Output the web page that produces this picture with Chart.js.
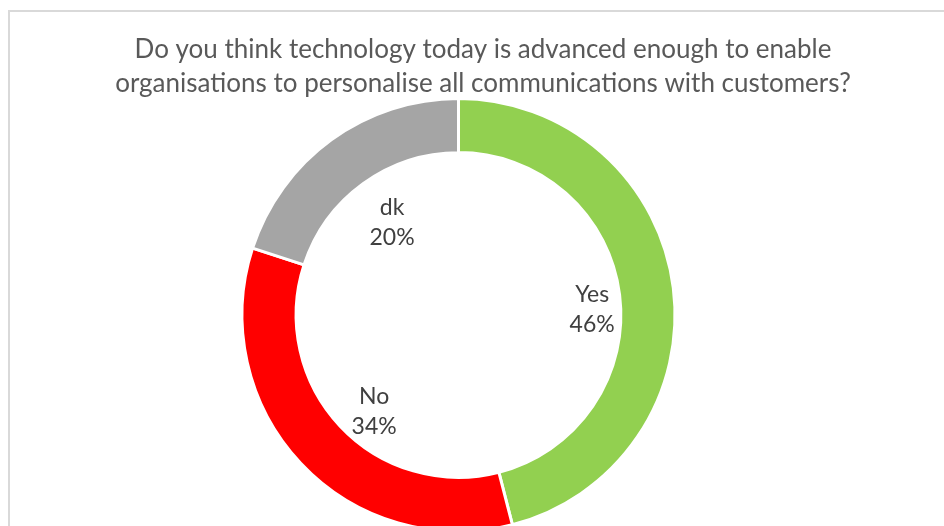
<!DOCTYPE html>
<html>
<head>
<meta charset="utf-8">
<script src="https://cdn.jsdelivr.net/npm/chart.js@4/dist/chart.umd.min.js"></script>
<style>
  html, body { margin: 0; padding: 0; background: #ffffff; overflow: hidden; }
  #frame {
    position: absolute; left: 8px; top: 10px; width: 1000px; height: 600px;
    border-left: 2px solid #d9d9d9; border-top: 2px solid #d9d9d9;
  }
  #wrap { position: absolute; left: 0; top: 0; width: 944px; height: 560px; }
</style>
</head>
<body>
<div id="frame"></div>
<div id="wrap"><canvas id="chart" width="944" height="560"></canvas></div>
<script>
// Survey answers and their shares (%)
const answers = ['Yes', 'No', 'dk'];
const shares = [46, 34, 20];
const sliceColours = ['#92d050', '#ff0000', '#a5a5a5'];
const titleLines = [
  'Do you think technology today is advanced enough to enable',
  'organisations to personalise all communications with customers?'
];

const FONT = 'Lato, "Liberation Sans", sans-serif';

// Two-line question drawn above the ring
const titlePlugin = {
  id: 'questionTitle',
  afterDraw(chart) {
    const ctx = chart.ctx;
    ctx.save();
    ctx.font = '26px ' + FONT;
    ctx.fillStyle = '#595959';
    ctx.textAlign = 'center';
    ctx.textBaseline = 'alphabetic';
    titleLines.forEach((line, i) => ctx.fillText(line, 483, 58 + i * 34));
    ctx.restore();
  }
};

// Category name and percentage placed inside the hole, along each slice's middle angle
const sliceLabels = {
  id: 'sliceLabels',
  afterDatasetsDraw(chart) {
    const ctx = chart.ctx;
    const meta = chart.getDatasetMeta(0);
    ctx.save();
    ctx.font = '23px ' + FONT;
    ctx.fillStyle = '#404040';
    ctx.textAlign = 'center';
    ctx.textBaseline = 'middle';
    meta.data.forEach((arc, i) => {
      const p = arc.getProps(['x', 'y', 'startAngle', 'endAngle', 'innerRadius'], true);
      const mid = (p.startAngle + p.endAngle) / 2;
      const r = p.innerRadius * 0.78;
      const cx = p.x + Math.cos(mid) * r + 8;
      const cy = p.y + Math.sin(mid) * r + 10;
      ctx.fillText(answers[i], cx, cy - 15);
      ctx.fillText(chart.data.datasets[0].data[i] + '%', cx, cy + 15);
    });
    ctx.restore();
  }
};

new Chart(document.getElementById('chart'), {
  type: 'doughnut',
  data: {
    labels: answers,
    datasets: [{
      data: shares,
      backgroundColor: sliceColours,
      borderColor: '#ffffff',
      borderWidth: 3,
      hoverOffset: 0
    }]
  },
  options: {
    responsive: false,
    animation: false,
    cutout: '75%',
    layout: { padding: { left: 240, right: 267, top: 97, bottom: 27 } },
    plugins: {
      legend: { display: false },
      tooltip: { enabled: false },
      title: { display: false }
    },
    events: []
  },
  plugins: [titlePlugin, sliceLabels]
});
</script>
</body>
</html>
